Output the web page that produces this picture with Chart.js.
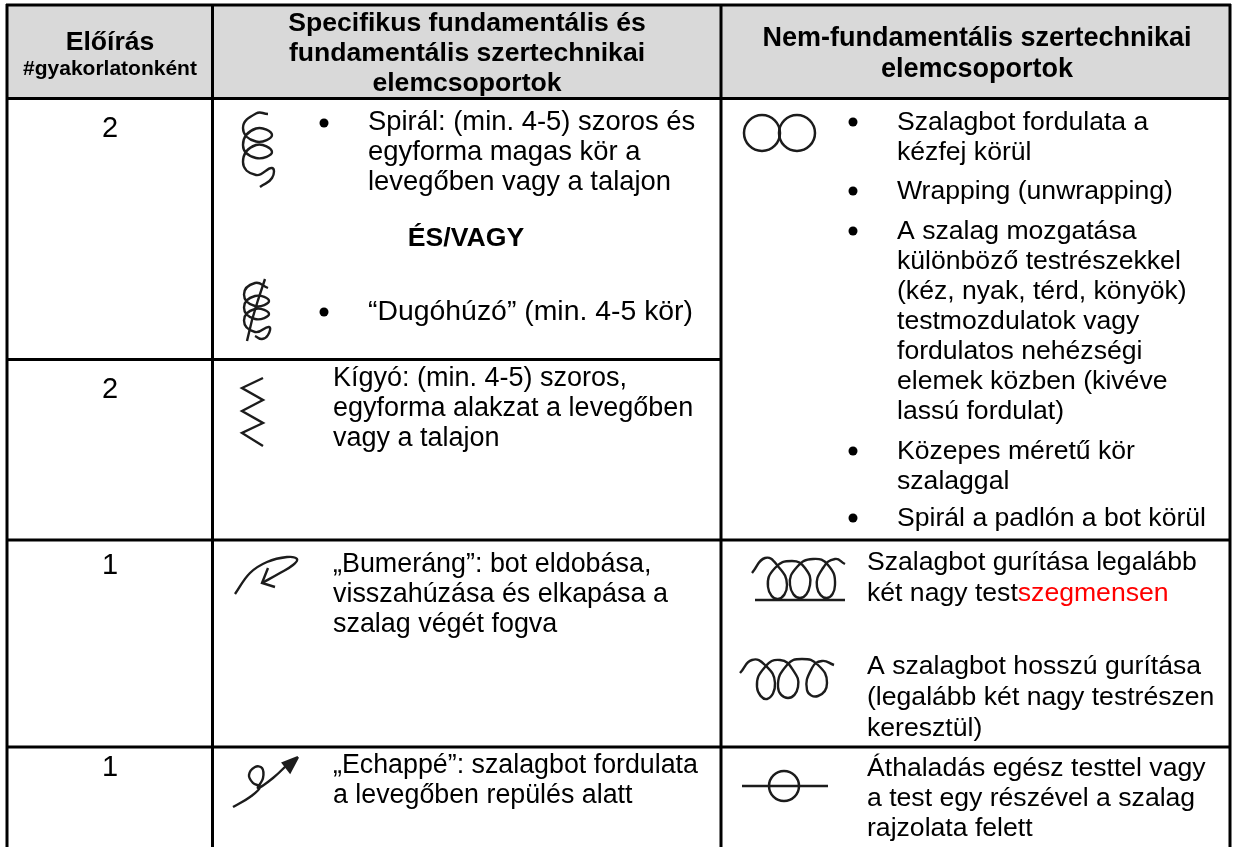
<!DOCTYPE html>
<html lang="hu">
<head>
<meta charset="utf-8">
<title>Szertechnikai elemcsoportok</title>
<script src="https://cdn.jsdelivr.net/npm/chart.js@4"></script>
<style>
  html, body { margin: 0; padding: 0; background: #fff; }
  canvas { display: block; }
</style>
</head>
<body>
<canvas id="tableChart" width="1236" height="847"></canvas>
<script>
// table text
const headPrescription = ['Előírás', '#gyakorlatonként'];
const headFundamental = ['Specifikus fundamentális és', 'fundamentális szertechnikai', 'elemcsoportok'];
const headOther = ['Nem-fundamentális szertechnikai', 'elemcsoportok'];
const prescriptionValues = ['2', '2', '1', '1'];
const spiralText = ['Spirál: (min. 4-5) szoros és', 'egyforma magas kör a', 'levegőben vagy a talajon'];
const andOrText = 'ÉS/VAGY';
const corkscrewText = ['“Dugóhúzó” (min. 4-5 kör)'];
const snakeText = ['Kígyó: (min. 4-5) szoros,', 'egyforma alakzat a levegőben', 'vagy a talajon'];
const boomerangText = ['„Bumeráng”: bot eldobása,', 'visszahúzása és elkapása a', 'szalag végét fogva'];
const echappeText = ['„Echappé”: szalagbot fordulata', 'a levegőben repülés alatt'];
const turnText = ['Szalagbot fordulata a', 'kézfej körül'];
const wrappingText = ['Wrapping (unwrapping)'];
const movingText = ['A szalag mozgatása', 'különböző testrészekkel', '(kéz, nyak, térd, könyök)', 'testmozdulatok vagy', 'fordulatos nehézségi', 'elemek közben (kivéve', 'lassú fordulat)'];
const circleText = ['Közepes méretű kör', 'szalaggal'];
const floorText = ['Spirál a padlón a bot körül'];
const rollText = ['Szalagbot gurítása legalább', 'két nagy test'];
const rollRedText = 'szegmensen';
const longRollText = ['A szalagbot hosszú gurítása', '(legalább két nagy testrészen', 'keresztül)'];
const passText = ['Áthaladás egész testtel vagy', 'a test egy részével a szalag', 'rajzolata felett'];

// table rules, [x1, y1, x2, y2]
const tableRules = [
  [6, 5, 1231, 5], [6, 98.5, 1231, 98.5], [6, 359.5, 721, 359.5],
  [6, 540, 1231, 540], [6, 747, 1231, 747],
  [7, 4, 7, 847], [212.5, 4, 212.5, 847], [721, 4, 721, 847], [1230, 4, 1230, 847]
];

// symbol strokes
const spiralStroke = [[268,114],[256,113.5],[243,128],[256,141.5],[272,135],[256,128.5],[243,145],[256,158],[272,152],[256,145],[243,162],[256,175],[272,168],[272,178],[260,187]];
const corkStroke = [[268,288],[255,283],[244,294.5],[255,306],[269,301],[255,296],[244,307.5],[255,319],[269,314],[255,309],[244,320.5],[255,332],[269,327],[268,335],[262,339],[255,336]];
const corkShaft = [[265,279],[258,300],[252,320],[247,341]];
const snakeStroke = [[263,378],[242,388],[263,400],[242,411],[263,423],[242,433],[263,446]];
const boomerangStroke = [[235,594],[250,573],[267,562],[287,557],[297,559],[293,565],[280,573],[262,583]];
const boomerangHead = [[268,568],[262,583],[275,587]];
const echappeStroke = [[233,807],[250,797],[260,787],[253,783],[249,775],[255,767],[262,768],[263,778],[258,788],[273,778],[290,762]];
const echappeHead = [[298,757],[283,763],[290,772],[298,757]];
const rollStroke = [[752,573],[765,558],[777,565],[787,585],[778,599],[768,587],[775,568],[792,561],[805,568],[810,585],[800,598],[790,585],[797,567],[813,559],[828,565],[835,585],[827,598],[817,587],[823,568],[835,559],[845,564]];
const rollBase = [[755,600],[845,600]];
const longRollStroke = [[740,673],[752,660],[765,665],[775,683],[767,699],[757,687],[765,667],[780,660],[793,670],[798,687],[788,698],[778,687],[787,665],[802,659],[818,665],[827,683],[818,696],[807,690],[812,668],[822,661],[834,665]];
const passBar = [[742,786],[828,786]];
const ringCenters = [[762,133],[797,133]];
const passCenter = [[784,786]];

const toPoints = list => list.map(p => ({ x: p[0], y: p[1] }));

function stroke(list, tension, width) {
  return {
    data: toPoints(list),
    showLine: true,
    borderColor: '#1c1c1c',
    backgroundColor: '#1c1c1c',
    borderWidth: width || 2.4,
    tension: tension,
    pointRadius: 0
  };
}

function rings(list, radius) {
  return {
    data: toPoints(list),
    showLine: false,
    pointStyle: 'circle',
    pointRadius: radius,
    pointBorderWidth: 2.5,
    pointBorderColor: '#1c1c1c',
    pointBackgroundColor: 'transparent'
  };
}

const datasets = [];
tableRules.forEach(r => {
  datasets.push({
    data: toPoints([[r[0], r[1]], [r[2], r[3]]]),
    showLine: true, borderColor: '#000', borderWidth: 3, pointRadius: 0
  });
});
// thin white strip above the rule of the last row
datasets.push({
  data: toPoints([[736, 746], [836, 746]]),
  showLine: true, borderColor: '#fff', borderWidth: 2, pointRadius: 0
});
[spiralStroke, corkStroke, rollStroke, longRollStroke].forEach(s => datasets.push(stroke(s, 0.5)));
[boomerangStroke, echappeStroke].forEach(s => datasets.push(stroke(s, 0.4)));
[corkShaft, snakeStroke, boomerangHead, rollBase, passBar].forEach(s => datasets.push(stroke(s, 0)));
datasets.push(Object.assign(stroke(echappeHead, 0), { fill: 'shape' }));
datasets.push(rings(ringCenters, 18));
datasets.push(rings(passCenter, 15));

const textBlocks = [
  { lines: spiralText, x: 368, y: 130, step: 30, size: 27.4 },
  { lines: corkscrewText, x: 368, y: 320, step: 30, size: 28.4 },
  { lines: snakeText, x: 333, y: 386, step: 30, size: 27 },
  { lines: boomerangText, x: 333, y: 572, step: 30, size: 26.9 },
  { lines: echappeText, x: 333, y: 773, step: 30, size: 26.8 },
  { lines: turnText, x: 897, y: 130, step: 30 },
  { lines: wrappingText, x: 897, y: 199, step: 30 },
  { lines: movingText, x: 897, y: 239, step: 30 },
  { lines: circleText, x: 897, y: 459, step: 30 },
  { lines: floorText, x: 897, y: 526, step: 30 },
  { lines: rollText, x: 867, y: 570, step: 31 },
  { lines: longRollText, x: 867, y: 674, step: 31 },
  { lines: passText, x: 867, y: 776, step: 30 }
];
const bulletMarks = [
  [324, 123], [324, 312], [853, 122], [853, 191], [853, 231], [853, 451], [853, 518]
];

const tablePlugin = {
  id: 'tablePlugin',
  beforeDatasetsDraw(chart) {
    const { ctx, scales: { x, y } } = chart;
    ctx.save();
    ctx.fillStyle = '#d9d9d9';
    ctx.fillRect(x.getPixelForValue(7), y.getPixelForValue(5), x.getPixelForValue(1230) - x.getPixelForValue(7), y.getPixelForValue(98.5) - y.getPixelForValue(5));
    ctx.restore();
  },
  afterDatasetsDraw(chart) {
    const { ctx, scales: { x, y } } = chart;
    const put = (str, px, py) => ctx.fillText(str, x.getPixelForValue(px), y.getPixelForValue(py));
    ctx.save();
    ctx.textBaseline = 'alphabetic';
    ctx.fillStyle = '#000';

    ctx.textAlign = 'center';
    ctx.font = 'bold 26.6px "Liberation Sans"';
    put(headPrescription[0], 110, 50);
    headFundamental.forEach((s, i) => put(s, 467, 31 + i * 30));
    ctx.font = 'bold 27px "Liberation Sans"';
    headOther.forEach((s, i) => put(s, 977, 46 + i * 31));
    ctx.font = 'bold 21px "Liberation Sans"';
    put(headPrescription[1], 110, 75);

    ctx.font = '29px "Liberation Sans"';
    [137, 398, 574, 776].forEach((py, i) => put(prescriptionValues[i], 110, py));

    ctx.font = 'bold 26.6px "Liberation Sans"';
    put(andOrText, 466, 246);

    ctx.textAlign = 'left';
    textBlocks.forEach(b => {
      ctx.font = (b.size || 26.6) + 'px "Liberation Sans"';
      b.lines.forEach((s, i) => put(s, b.x, b.y + i * b.step));
    });

    ctx.font = '26.6px "Liberation Sans"';
    const start = x.getPixelForValue(867) + ctx.measureText(rollText[1]).width;
    ctx.fillStyle = '#ff0000';
    ctx.fillText(rollRedText, start, y.getPixelForValue(601));

    ctx.fillStyle = '#000';
    bulletMarks.forEach(b => {
      ctx.beginPath();
      ctx.arc(x.getPixelForValue(b[0]), y.getPixelForValue(b[1]), 4.5, 0, Math.PI * 2);
      ctx.fill();
    });
    ctx.restore();
  }
};

new Chart(document.getElementById('tableChart').getContext('2d'), {
  type: 'scatter',
  data: { datasets: datasets },
  plugins: [tablePlugin],
  options: {
    responsive: false,
    animation: false,
    layout: { padding: 0, autoPadding: false },
    plugins: { legend: { display: false }, tooltip: { enabled: false } },
    elements: { line: { capBezierPoints: false } },
    scales: {
      x: { type: 'linear', min: 0, max: 1236, display: false },
      y: { type: 'linear', min: 0, max: 847, reverse: true, display: false }
    }
  }
});
</script>
</body>
</html>
